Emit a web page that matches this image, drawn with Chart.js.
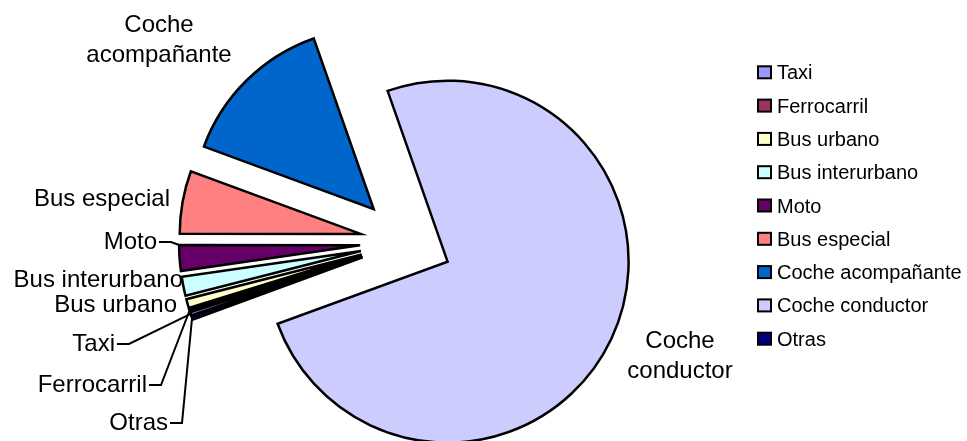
<!DOCTYPE html>
<html>
<head>
<meta charset="utf-8">
<script src="https://cdn.jsdelivr.net/npm/chart.js@4/dist/chart.umd.min.js"></script>
<style>
  html, body { margin: 0; padding: 0; background: #fff; }
  #wrap { position: relative; width: 967px; height: 441px; }
</style>
</head>
<body>
<div id="wrap"><canvas id="pie"></canvas></div>
<script>
// Reparto modal (%), en el orden de la leyenda
const categories = ['Taxi', 'Ferrocarril', 'Bus urbano', 'Bus interurbano', 'Moto', 'Bus especial', 'Coche acompañante', 'Coche conductor', 'Otras'];
const shares = [0.3, 0.2, 0.8, 1.7, 2.3, 5.6, 14.0, 74.8, 0.3];
const colors = ['#9999FF', '#993366', '#FFFFCC', '#CCFFFF', '#660066', '#FF8080', '#0066CC', '#CCCCFF', '#000080'];

// Colocación de las etiquetas (x, línea base, alineación, línea guía)
const labelLayout = [
  { x: 115, y: 351, align: 'right', leader: true, frac: 0.5 },
  { x: 147, y: 392, align: 'right', leader: true, frac: 0.5 },
  { x: 177, y: 312, align: 'right' },
  { x: 183, y: 287, align: 'right' },
  { x: 157, y: 249, align: 'right', leader: true, frac: 1 },
  { x: 170, y: 206, align: 'right' },
  { x: 159, y: 32, align: 'center', wrap: true },
  { x: 680, y: 348, align: 'center', wrap: true },
  { x: 168, y: 430, align: 'right', leader: true, frac: 0.5 }
];

const EXPLODE = 46;        // separación de las porciones
const FONT = '"Liberation Sans", Arial, sans-serif';

// Separa todas las porciones del centro (como el "explotar" de Excel)
const explodePlugin = {
  id: 'explode',
  beforeDatasetsDraw(chart) {
    const area = chart.chartArea;
    const cx = (area.left + area.right) / 2;
    const cy = (area.top + area.bottom) / 2;
    chart.getDatasetMeta(0).data.forEach(arc => {
      const mid = (arc.startAngle + arc.endAngle) / 2;
      arc.x = cx + Math.cos(mid) * EXPLODE;
      arc.y = cy + Math.sin(mid) * EXPLODE;
    });
  }
};

// Etiquetas con líneas guía y leyenda a la derecha
const labelsPlugin = {
  id: 'pieLabels',
  afterDraw(chart) {
    const ctx = chart.ctx;
    const arcs = chart.getDatasetMeta(0).data;
    ctx.save();
    ctx.fillStyle = '#000';
    ctx.strokeStyle = '#000';
    ctx.lineWidth = 2;
    ctx.font = '24px ' + FONT;
    ctx.textBaseline = 'alphabetic';

    categories.forEach((name, i) => {
      const l = labelLayout[i];
      ctx.textAlign = l.align;
      if (l.wrap) {
        const cut = name.indexOf(' ');
        ctx.fillText(name.slice(0, cut), l.x, l.y);
        ctx.fillText(name.slice(cut + 1), l.x, l.y + 30);
      } else {
        ctx.fillText(name, l.x, l.y);
      }
      if (l.leader) {
        const arc = arcs[i];
        const a = arc.startAngle + l.frac * (arc.endAngle - arc.startAngle);
        const px = arc.x + Math.cos(a) * arc.outerRadius;
        const py = arc.y + Math.sin(a) * arc.outerRadius;
        ctx.beginPath();
        ctx.moveTo(l.x + 2, l.y - 7);
        ctx.lineTo(l.x + 14, l.y - 7);
        ctx.lineTo(px, py);
        ctx.stroke();
      }
    });

    // leyenda
    ctx.font = '20px ' + FONT;
    ctx.textAlign = 'left';
    ctx.lineWidth = 2;
    categories.forEach((name, i) => {
      const base = 79.3 + i * 33.3;
      ctx.fillStyle = colors[i];
      ctx.fillRect(758, base - 13, 13, 12);
      ctx.strokeRect(758, base - 13, 13, 12);
      ctx.fillStyle = '#000';
      ctx.fillText(name, 777, base);
    });
    ctx.restore();
  }
};

new Chart(document.getElementById('pie'), {
  type: 'pie',
  data: {
    labels: categories,
    datasets: [{
      data: shares,
      backgroundColor: colors,
      borderColor: '#000',
      borderWidth: 2.5,
      borderJoinStyle: 'miter'
    }]
  },
  options: {
    responsive: true,
    maintainAspectRatio: false,
    animation: false,
    events: [],
    rotation: 251,
    radius: 181,
    layout: { padding: { left: 0, right: 155, top: 43, bottom: 0 } },
    plugins: {
      legend: { display: false },
      tooltip: { enabled: false }
    }
  },
  plugins: [explodePlugin, labelsPlugin]
});
</script>
</body>
</html>
